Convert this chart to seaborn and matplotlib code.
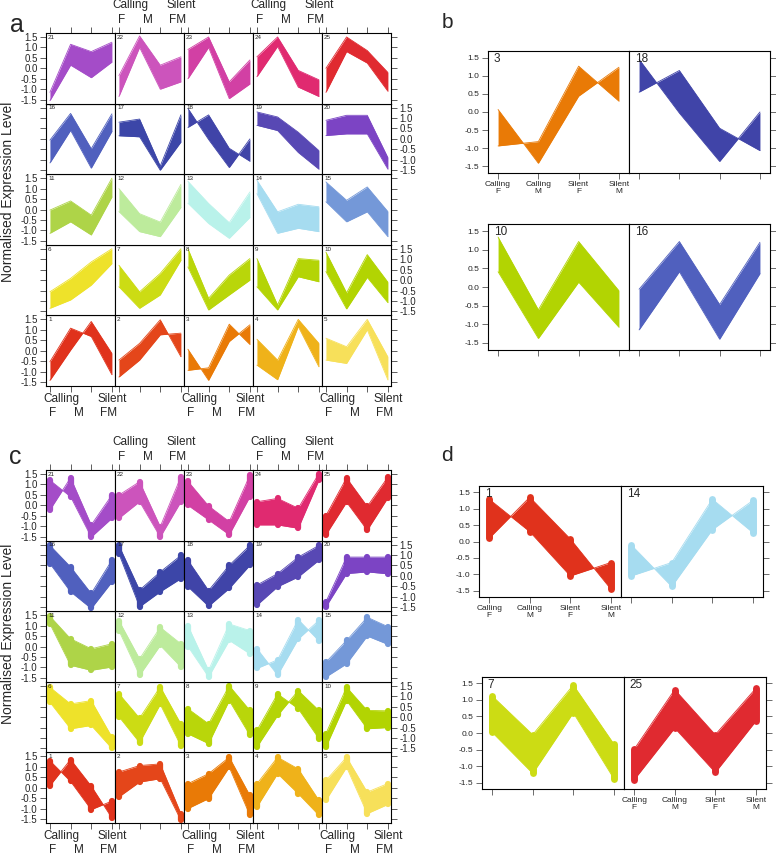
import numpy as np
import pandas as pd
import matplotlib
matplotlib.use("Agg")
import matplotlib.pyplot as plt
import seaborn as sns

# conditions on the x axis of every small panel
conditions = ["Calling\nF", "Calling\nM", "Silent\nF", "Silent\nM"]
cond_x = [0, 1, 2, 3]
yticks = [-1.5, -1.0, -0.5, 0.0, 0.5, 1.0, 1.5]

# cluster ids (1..25) and their colours
clusters = list(range(1, 26))
colors = ["#E0321C", "#E4461A", "#E97A06", "#EFB21A", "#F7E05A",
          "#EEE22A", "#CCDC14", "#B9D60A", "#B4D406", "#B2D402",
          "#AED448", "#BDEB9C", "#B9F2EA", "#A6DCF0", "#7498D8",
          "#5060BE", "#3C46A8", "#4044A8", "#5848B4", "#7C44C4",
          "#A44CC8", "#CC54BC", "#D240A4", "#E02A70", "#E02A30"]

# panel a: two edge profiles of each cluster's bundle of lines
a_prof1 = [[-0.53, 1.08, 0.68, -1.15], [-0.45, 0.35, 1.48, -0.29], [0.07, -1.42, 0.44, 1.24],
           [-0.69, -1.39, 1.16, -0.77], [-0.45, -0.61, 1.00, -1.40],
           [-1.35, -0.95, -0.24, 0.79], [-0.32, -1.35, -0.71, 0.95], [0.63, -1.43, -0.71, 0.00],
           [-0.32, -1.43, 0.16, -0.08], [0.41, -1.38, 0.13, -1.08],
           [-1.14, -0.59, -1.22, 0.60], [-0.10, -1.06, -1.30, 0.10], [0.30, -0.67, -1.38, -0.38],
           [0.76, -1.14, -0.90, -1.06], [0.37, -0.59, -0.11, -1.30],
           [-1.15, 0.41, -1.40, 0.36], [0.15, 0.10, -1.50, -0.15], [1.46, -0.03, -1.37, 0.00],
           [0.65, 0.40, -0.65, -1.45], [0.16, 0.24, 0.24, -1.45],
           [-1.55, 0.15, -0.45, 0.30], [-1.35, 1.00, -1.00, -0.65], [-0.50, 1.00, -1.45, -0.75],
           [-0.40, 1.05, -0.90, -1.35], [-1.15, 0.80, 0.25, -1.10]]
a_prof2 = [[-1.42, 0.03, 1.40, -0.13], [-1.26, -0.45, 0.76, 0.84], [-0.94, -0.82, 1.27, 0.30],
           [0.55, -0.45, 1.50, 0.35], [0.60, 0.19, 1.50, -0.30],
           [-0.56, 0.08, 0.87, 1.50], [0.71, -0.56, 0.32, 1.50], [1.50, -0.87, 0.24, 1.03],
           [1.03, -1.19, 1.03, 0.95], [1.34, -0.61, 1.22, -0.10],
           [-0.03, 0.41, -0.27, 1.50], [1.00, -0.20, -0.60, 1.20], [1.35, 0.29, -0.63, 0.84],
           [1.40, -0.11, 0.25, 0.13], [1.32, 0.44, 1.08, -0.10],
           [-0.06, 1.22, -0.47, 1.20], [0.80, 0.95, -1.30, 1.15], [0.55, 1.15, -0.45, -1.07],
           [1.29, 1.05, 0.32, -0.56], [0.89, 1.13, 1.13, -0.90],
           [-1.15, 1.15, 0.80, 1.25], [-0.35, 1.55, 0.15, 0.55], [0.90, 1.50, -0.65, 0.40],
           [0.55, 1.50, -0.10, -0.55], [0.00, 1.50, 0.85, -0.20]]

# panel c: same layout, second clustering
c_prof1 = [[1.29, 0.30, -1.05, -0.64], [-0.44, 0.27, 0.43, -1.56], [-1.00, -0.52, 0.98, -1.32],
           [-0.92, 0.67, -0.29, -1.32], [-0.60, 0.98, -1.24, -0.80],
           [0.71, -0.56, -0.40, -1.50], [0.02, -1.22, 0.61, -1.38], [-0.80, -1.27, 0.79, -0.87],
           [-0.63, 1.11, 0.40, -1.03], [-1.43, 0.79, -0.56, -0.50],
           [1.08, -0.90, -1.14, -0.98], [0.76, -1.38, 0.05, -0.98], [0.00, -1.46, 0.29, -0.35],
           [-0.10, -1.37, 0.36, 1.25], [-1.46, -0.83, 0.50, 0.10],
           [0.59, -0.76, -1.56, -0.29], [1.06, -1.48, -0.76, -0.13], [-0.52, -1.45, -0.60, 0.51],
           [-1.40, -0.52, -0.05, 0.75], [-1.48, 0.11, 0.19, 0.10],
           [1.20, 0.41, -1.52, -0.62], [-0.62, 0.17, -1.52, 0.17], [0.00, -0.70, -1.41, 0.41],
           [-0.94, -0.94, -1.10, 1.20], [-1.41, 0.15, -1.19, 0.36]]
c_prof2 = [[0.10, 1.35, 0.08, -1.45], [0.75, 1.06, 1.14, -1.24], [0.19, 0.67, 1.46, -0.37],
           [0.19, 1.46, 0.90, -0.60], [0.35, 1.46, -0.21, 0.20],
           [1.43, 0.63, 0.79, -0.95], [1.12, -0.05, 1.45, -0.33], [0.40, -0.32, 1.50, 0.32],
           [-1.43, 0.08, 1.27, 0.32], [-0.79, 1.43, 0.32, 0.30],
           [1.45, 0.37, -0.11, 0.13], [1.24, -0.59, 0.92, 0.13], [1.00, -1.14, 1.08, 0.76],
           [-1.05, -0.64, 1.29, 0.27], [-0.75, 0.29, 1.40, 0.95],
           [1.46, 0.43, -0.84, 0.75], [1.46, -0.68, 0.19, 0.98], [0.75, -0.70, 0.51, 1.46],
           [-0.44, 0.11, 0.90, 1.46], [-1.24, 0.90, 0.90, 0.90],
           [-0.22, 1.32, -0.94, 0.49], [0.49, 1.13, -1.02, 1.37], [1.15, -0.03, -0.78, 1.44],
           [0.17, 0.33, -0.14, 1.52], [-0.49, 1.31, -0.05, 1.35]]

# clusters picked out in panels b (from a) and d (from c)
b_clusters = [3, 18, 10, 16]
d_clusters = [1, 14, 7, 25]

W, H = 776, 855
sns.set_style("white")
plt.rcParams["font.family"] = ["Liberation Sans", "DejaVu Sans"]
plt.rcParams["axes.unicode_minus"] = False

fig = plt.figure(figsize=(W / 100, H / 100), dpi=100)


def px_axes(x, y, w, h):
    return fig.add_axes([x / W, 1 - (y + h) / H, w / W, h / H])


def draw_band(ax, k, p1, p2, markers, msize):
    col = colors[k - 1]
    df = pd.DataFrame({"x": cond_x * 2, "y": list(p1) + list(p2),
                       "line": [0] * 4 + [1] * 4})
    ax.fill_between(cond_x, p1, p2, color=col, lw=0)
    sns.lineplot(data=df, x="x", y="y", units="line", estimator=None,
                 color=col, lw=0.6, ax=ax, legend=False)
    if markers:
        ax.vlines(cond_x, np.minimum(p1, p2), np.maximum(p1, p2),
                  colors=col, lw=msize, capstyle="round")
    ax.set_xlabel("")
    ax.set_ylabel("")
    ax.set_xlim(-0.19, 3.15)
    ax.set_ylim(-1.69, 1.69)
    ax.set_xticks(cond_x)
    ax.set_yticks(yticks)
    ax.set_yticklabels([f"{v:.1f}" for v in yticks])
    for s in ax.spines.values():
        s.set_linewidth(0.8)
        s.set_color("black")


def lattice(top, prof1, prof2, markers):
    left, cw, rh = 46, 69, 70.6
    for k in clusters:
        row = 4 - (k - 1) // 5
        col = (k - 1) % 5
        ax = px_axes(left + col * cw, top + row * rh, cw, rh)
        draw_band(ax, k, prof1[k - 1], prof2[k - 1], markers, 4.5)
        ax.tick_params(direction="out", length=4, width=0.6, color="#444",
                       labelsize=7, pad=2,
                       left=col == 0, right=col == 4, top=row == 0, bottom=row == 4,
                       labelleft=(col == 0 and row % 2 == 0),
                       labelright=(col == 4 and row % 2 == 1),
                       labeltop=False, labelbottom=False)
        ax.text(0.03, 0.975, str(k), transform=ax.transAxes, fontsize=4.5,
                ha="left", va="top")
        tr = ax.get_xaxis_transform()
        if row == 0 and col in (1, 3):
            y1, y2 = 1 + 28 / rh, 1 + 13 / rh
        elif row == 4 and col in (0, 2, 4):
            y1, y2 = -13 / rh, -27 / rh
        else:
            continue
        for txt, xx, yy in [("Calling", 0.55, y1), ("Silent", 3.0, y1),
                            ("F", 0.15, y2), ("M", 1.4, y2), ("FM", 2.85, y2)]:
            ax.text(xx, yy, txt, transform=tr, fontsize=8.5, ha="center",
                    va="center", clip_on=False)


def pair(ids, prof1, prof2, x0, y0, w, h, show_labels, markers):
    for i, k in enumerate(ids):
        ax = px_axes(x0 + i * w, y0, w, h)
        draw_band(ax, k, prof1[k - 1], prof2[k - 1], markers, 5)
        ax.set_xlim(-0.25, 3.25)
        ax.tick_params(direction="out", length=4, width=0.6, color="#555",
                       labelsize=6, pad=2,
                       left=i == 0, right=i == 1, top=False, bottom=True,
                       labelleft=i == 0, labelright=False,
                       labelbottom=show_labels[i])
        ax.set_xticklabels(conditions, linespacing=1.0)
        ax.text(0.04, 0.985, str(k), transform=ax.transAxes, fontsize=8.5,
                ha="left", va="top")


# panel a and c lattices
lattice(33, a_prof1, a_prof2, False)
lattice(470, c_prof1, c_prof2, True)

# panel b
pair(b_clusters[:2], a_prof1, a_prof2, 488, 51, 141, 122, [True, False], False)
pair(b_clusters[2:], a_prof1, a_prof2, 488, 224, 141, 126, [False, False], False)

# panel d
pair(d_clusters[:2], c_prof1, c_prof2, 479, 486, 142, 111, [True, False], True)
pair(d_clusters[2:], c_prof1, c_prof2, 482, 677, 142, 112, [False, True], True)

# panel letters and shared y labels
for lab, x, y, fs in [("a", 17, 25, 18), ("b", 447, 23, 15),
                      ("c", 15, 457, 18), ("d", 447, 455, 15)]:
    fig.text(x / W, 1 - y / H, lab, fontsize=fs, ha="center", va="center")
for y in (192, 634):
    fig.text(8 / W, 1 - y / H, "Normalised Expression Level", rotation=90,
             fontsize=10, ha="center", va="center")

fig.savefig("out.png", dpi=100)
